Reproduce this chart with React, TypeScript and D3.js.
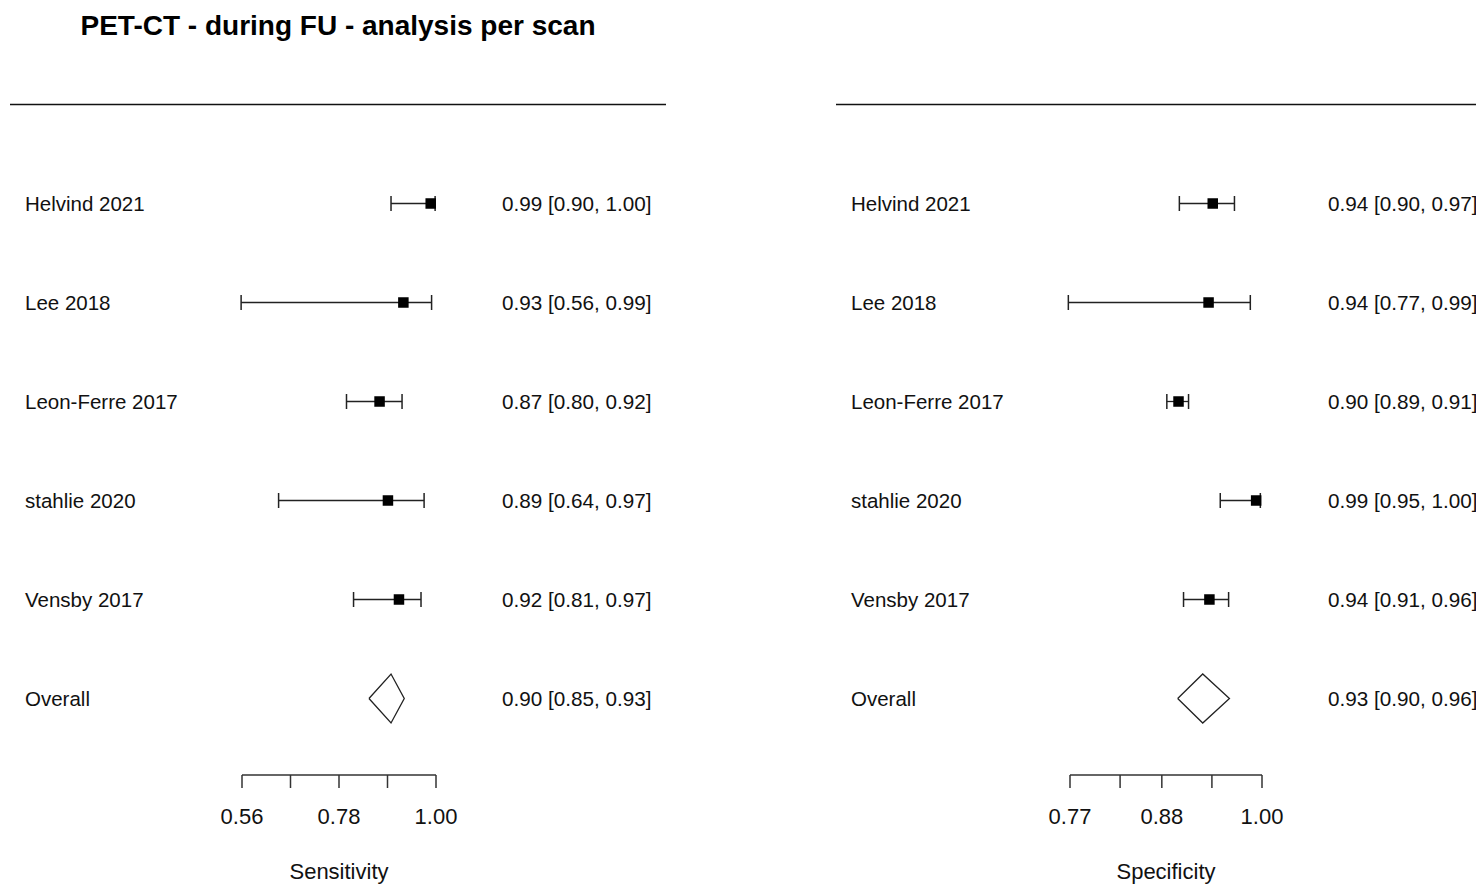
import React from "react";
import * as d3 from "d3";

// ---- data ----
const studies = ["Helvind 2021", "Lee 2018", "Leon-Ferre 2017", "stahlie 2020", "Vensby 2017"];
const overallLabel = "Overall";

const sensEst = [0.988, 0.926, 0.872, 0.891, 0.916];
const sensLo = [0.898, 0.558, 0.797, 0.643, 0.813];
const sensHi = [0.998, 0.99, 0.923, 0.973, 0.966];
const sensOverall = [0.898, 0.848, 0.928]; // est, lo, hi

const specEst = [0.941, 0.936, 0.9, 0.993, 0.937];
const specLo = [0.901, 0.768, 0.886, 0.95, 0.906];
const specHi = [0.967, 0.986, 0.912, 0.998, 0.96];
const specOverall = [0.929, 0.899, 0.961];

const sensTicks = [0.56, 0.67, 0.78, 0.89, 1.0];
const sensTickLabels = ["0.56", "", "0.78", "", "1.00"];
const specTicks = [0.77, 0.83, 0.88, 0.94, 1.0];
const specTickLabels = ["0.77", "", "0.88", "", "1.00"];

const title = "PET-CT - during FU - analysis per scan";
const sensTitle = "Sensitivity";
const specTitle = "Specificity";

const FONT = "'Liberation Sans', Arial, Helvetica, sans-serif";
const fmt = d3.format(".2f");

type PanelProps = {
  lineX: [number, number];
  labelX: number;
  valueX: number;
  range: [number, number];
  domain: [number, number];
  est: number[];
  lo: number[];
  hi: number[];
  overall: number[];
  ticks: number[];
  tickLabels: string[];
  axisTitle: string;
};

const rowY = d3.scaleLinear().domain([0, 5]).range([203.5, 698.5]);

function Panel(p: PanelProps) {
  const x = d3.scaleLinear().domain(p.domain).range(p.range);
  const sq = 10.5;
  const cap = 7.5;
  const dh = 24.5;
  const axisY = 775;
  const [oe, ol, oh] = p.overall;
  const oy = rowY(5);
  const diamond = d3.line<[number, number]>()([
    [x(ol), oy],
    [x(oe), oy - dh],
    [x(oh), oy],
    [x(oe), oy + dh],
    [x(ol), oy],
  ]) as string;
  return (
    <g>
      <line x1={p.lineX[0]} x2={p.lineX[1]} y1={104.5} y2={104.5} stroke="#111" strokeWidth={1.3} />
      {studies.map((s, i) => {
        const y = rowY(i);
        return (
          <g key={s}>
            <text x={p.labelX} y={y + 7.5} fontSize={20.5} fontFamily={FONT} fill="#111">
              {s}
            </text>
            <line x1={x(p.lo[i])} x2={x(p.hi[i])} y1={y} y2={y} stroke="#222" strokeWidth={1.3} />
            <line x1={x(p.lo[i])} x2={x(p.lo[i])} y1={y - cap} y2={y + cap} stroke="#222" strokeWidth={1.5} />
            <line x1={x(p.hi[i])} x2={x(p.hi[i])} y1={y - cap} y2={y + cap} stroke="#222" strokeWidth={1.5} />
            <rect x={x(p.est[i]) - sq / 2} y={y - sq / 2} width={sq} height={sq} fill="#000" />
            <text x={p.valueX} y={y + 7.5} fontSize={20.7} fontFamily={FONT} fill="#111">
              {`${fmt(p.est[i])} [${fmt(p.lo[i])}, ${fmt(p.hi[i])}]`}
            </text>
          </g>
        );
      })}
      <text x={p.labelX} y={oy + 7.5} fontSize={20.5} fontFamily={FONT} fill="#111">
        {overallLabel}
      </text>
      <path d={diamond} fill="none" stroke="#222" strokeWidth={1.3} />
      <text x={p.valueX} y={oy + 7.5} fontSize={20.7} fontFamily={FONT} fill="#111">
        {`${fmt(oe)} [${fmt(ol)}, ${fmt(oh)}]`}
      </text>
      <line x1={x(p.ticks[0])} x2={x(p.ticks[p.ticks.length - 1])} y1={axisY} y2={axisY} stroke="#333" strokeWidth={1.5} />
      {p.ticks.map((t, i) => (
        <g key={i}>
          <line x1={x(t)} x2={x(t)} y1={axisY} y2={axisY + 13} stroke="#333" strokeWidth={1.5} />
          {p.tickLabels[i] ? (
            <text x={x(t)} y={824} fontSize={22} fontFamily={FONT} textAnchor="middle" fill="#111">
              {p.tickLabels[i]}
            </text>
          ) : null}
        </g>
      ))}
      <text
        x={(x(p.ticks[0]) + x(p.ticks[p.ticks.length - 1])) / 2}
        y={879}
        fontSize={22}
        fontFamily={FONT}
        textAnchor="middle"
        fill="#111"
      >
        {p.axisTitle}
      </text>
    </g>
  );
}

export default function App() {
  return (
    <svg
      width={1476}
      height={884}
      style={{ position: "absolute", left: 0, top: 0, background: "#fff" }}
    >
      <rect width={1476} height={884} fill="#fff" />
      <text x={338} y={35} fontSize={28} fontWeight="bold" fontFamily={FONT} textAnchor="middle" fill="#000">
        {title}
      </text>
      <Panel
        lineX={[10, 666]}
        labelX={25}
        valueX={502}
        range={[242, 436]}
        domain={[0.56, 1.0]}
        est={sensEst}
        lo={sensLo}
        hi={sensHi}
        overall={sensOverall}
        ticks={sensTicks}
        tickLabels={sensTickLabels}
        axisTitle={sensTitle}
      />
      <Panel
        lineX={[836, 1492]}
        labelX={851}
        valueX={1328}
        range={[1070, 1262]}
        domain={[0.77, 1.0]}
        est={specEst}
        lo={specLo}
        hi={specHi}
        overall={specOverall}
        ticks={specTicks}
        tickLabels={specTickLabels}
        axisTitle={specTitle}
      />
    </svg>
  );
}
